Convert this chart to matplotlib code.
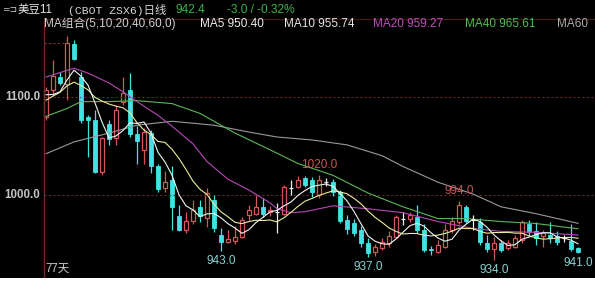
import numpy as np
import matplotlib
matplotlib.use("Agg")
import matplotlib.pyplot as plt
from matplotlib.patches import Rectangle
from matplotlib.lines import Line2D

# daily OHLC, 77 days
opens = [1079, 1107, 1120, 1113, 1154, 1120, 1079, 1076, 1023, 1072,
         1058, 1095, 1107, 1062, 1046, 1063, 1030, 1007, 1015, 979,
         964, 974, 988, 977, 995, 959, 952, 953, 957, 980,
         981, 988, 983, 983, 981, 1007, 1008, 1017, 1015, 1000,
         1013, 1013, 1003, 975, 972, 964, 951, 942, 946, 951,
         957, 976, 976, 978, 964, 945, 942, 947, 964, 973,
         988, 975, 973, 951, 945, 951, 946, 947, 954, 971,
         963, 958, 959, 958, 956, 953, 946]
highs = [1110, 1137, 1125, 1162, 1158, 1125, 1081, 1086, 1059, 1076,
         1092, 1120, 1124, 1070, 1068, 1066, 1032, 1024, 1029, 990,
         983, 995, 995, 1007, 1000, 966, 964, 968, 978, 990,
         1000, 997, 989, 992, 1010, 1015, 1019, 1019, 1018, 1020,
         1017, 1016, 1005, 980, 976, 968, 956, 950, 956, 963,
         980, 983, 983, 990, 970, 948, 954, 970, 978, 994,
         990, 980, 977, 959, 957, 954, 954, 959, 975, 975,
         973, 964, 973, 963, 959, 970, 947]
lows = [1076, 1102, 1112, 1097, 1137, 1073, 1039, 1022, 1020, 1051,
        1051, 1092, 1059, 1032, 1032, 1022, 1003, 1003, 964, 963,
        961, 971, 973, 967, 962, 943, 951, 950, 956, 975,
        980, 978, 979, 961, 980, 1000, 1007, 1008, 998, 997,
        1009, 999, 972, 960, 958, 947, 937, 938, 944, 947,
        956, 969, 973, 961, 942, 939, 941, 946, 961, 971,
        972, 964, 949, 942, 934, 942, 944, 946, 951, 958,
        949, 947, 951, 949, 952, 943, 941]
closes = [1107, 1121, 1114, 1155, 1138, 1076, 1076, 1023, 1058, 1057,
          1086, 1104, 1062, 1055, 1064, 1030, 1006, 1013, 988, 964,
          974, 985, 979, 1002, 966, 952, 955, 957, 975, 985,
          988, 981, 985, 983, 1008, 1007, 1015, 1010, 1003, 1015,
          1013, 1003, 974, 965, 961, 951, 941, 947, 952, 958,
          978, 976, 980, 964, 944, 944, 949, 964, 974, 990,
          974, 975, 952, 945, 951, 944, 951, 956, 973, 962,
          956, 961, 956, 952, 956, 945.4, 942.4]
# closes before the visible window (for MA5 / MA10)
prev_closes = [1080, 1075, 1090, 1100, 1110, 1120, 1100, 1095, 1088]

# slow averages
ma20_idx = [0, 4, 6, 9, 11, 13, 16, 18, 21, 23, 26, 29, 32, 33, 35, 37, 41, 46, 51, 56, 61, 65, 70, 76]
ma20_val = [1120, 1129, 1124, 1114, 1105, 1095, 1081, 1070, 1052, 1034, 1016, 1005, 992, 986, 982, 983,
            989, 986, 982, 973, 966, 963, 962, 959.3]
ma40_idx = [0, 3, 5, 9, 13, 18, 22, 27, 32, 36, 41, 46, 51, 56, 60, 65, 70, 76]
ma40_val = [1080, 1088, 1095, 1095, 1096, 1093, 1083, 1063, 1046, 1032, 1020, 1002, 988, 976, 976, 973,
            971, 965.6]
ma60_idx = [0, 4, 9, 13, 18, 24, 29, 33, 38, 43, 48, 51, 56, 61, 65, 70, 76]
ma60_val = [1042, 1054, 1063, 1071, 1075, 1071, 1064, 1059, 1056, 1051, 1040, 1029, 1013, 1001, 988,
            981, 971.2]

# legend row as printed in the header
ma_names = ["MA5", "MA10", "MA20", "MA40", "MA60"]
ma_last = [950.40, 955.74, 959.27, 965.61, None]
last_price = 942.4
change = -3.0
change_pct = -0.32

grid_levels = [1100.0, 1000.0]
peak_labels = [39, 59]
trough_labels = [25, 46, 64, 76]

W, H = 595, 281
BG = "black"
UP = "#d35858"
DOWN = "#42e2e2"

fig = plt.figure(figsize=(W / 100, H / 100), dpi=100, facecolor=BG)
ax = fig.add_axes([0, 0, 1, 1])
ax.set_facecolor(BG)
ax.axis("off")

# candle i sits at pixel 46 + 7*i ; 1100 at pixel row 96.7, 0.983 px per point
ax.set_xlim(-46 / 7, (W - 46) / 7)
ax.set_ylim(1100 - (H - 96.7) / 0.983, 1100 + 96.7 / 0.983)


def fx(x):
    return x / W


def fy(y):
    return 1 - y / H


# frame
left = -2 / 7
fig.add_artist(Line2D([fx(44), fx(44)], [fy(18), fy(277)], color="#7a2a2a", lw=0.9))
fig.add_artist(Line2D([fx(44), fx(595)], [fy(18.5), fy(18.5)], color="#4a1818", lw=0.8))
ax.hlines(grid_levels, left, (W - 46) / 7, colors="#6a2424", linestyles=(0, (2, 2)), lw=0.8)
for g in grid_levels:
    ax.text(left - 0.55, g, f"{g:.1f}", color="#c4c4c4", fontsize=8.3, fontweight="bold",
            family="Liberation Sans", ha="right", va="center")
ax.hlines(closes[3], left, 3, colors="#8a3030", linestyles=(0, (2, 2)), lw=0.8)

# candles
bw = 0.66
for i in range(len(closes)):
    o, h, l, c = opens[i], highs[i], lows[i], closes[i]
    if abs(c - o) < 0.5:
        ax.vlines(i, l, h, color="#eeeeee", lw=0.9)
        ax.hlines(o, i - bw / 2, i + bw / 2, color="#eeeeee", lw=0.9)
    elif c > o:
        ax.vlines(i, c, h, color=UP, lw=0.9)
        ax.vlines(i, l, o, color=UP, lw=0.9)
        ax.add_patch(Rectangle((i - bw / 2, o), bw, c - o, facecolor=BG, edgecolor=UP, lw=0.9))
    else:
        ax.vlines(i, l, h, color=DOWN, lw=0.9)
        ax.add_patch(Rectangle((i - bw / 2, c), bw, o - c, facecolor=DOWN, edgecolor=DOWN, lw=0.6))

# moving averages
all_closes = np.array(prev_closes + closes, dtype=float)
n0 = len(prev_closes)
idx = np.arange(len(closes))
ma5 = np.array([all_closes[n0 + i - 4:n0 + i + 1].mean() for i in idx])
ma10 = np.array([all_closes[n0 + i - 9:n0 + i + 1].mean() for i in idx])
ax.plot(ma60_idx, ma60_val, color="#9a9a9a", lw=0.8)
ax.plot(ma40_idx, ma40_val, color="#5cb85c", lw=0.8)
ax.plot(ma20_idx, ma20_val, color="#b848b8", lw=0.8)
ax.plot(idx, ma10, color="#ecec9c", lw=0.8)
ax.plot(idx, ma5, color="#f4f4f4", lw=0.8)

# high / low markers
for i in peak_labels:
    ax.annotate(f"{highs[i]:.1f}", (i, highs[i]), xytext=(0, 3), textcoords="offset points",
                ha="center", va="bottom", color="#cc5555", fontsize=8.5, family="Liberation Sans")
for i in trough_labels:
    ax.annotate(f"{lows[i]:.1f}", (i, lows[i]), xytext=(0, -3), textcoords="offset points",
                ha="center", va="top", color="#8ad2d2", fontsize=8.5, family="Liberation Sans")

# header rows
cjk = ["Liberation Sans", "Noto Sans CJK SC"]
fig.text(fx(2), fy(10), "=⊐", color="#c8c8c8", fontsize=6.5, va="center", family="DejaVu Sans")
fig.text(fx(18), fy(10), "美豆11", color="#e8e8e8", fontsize=8.3, va="center", family=cjk)
fig.text(fx(68), fy(10), "(CBOT ZSX6)日线", color="#d8d8d8", fontsize=8.2, va="center",
         family=["Liberation Mono", "Noto Sans CJK SC"])
fig.text(fx(175), fy(10), f"{last_price:.1f}", color="#3cb44a", fontsize=8.6, va="center",
         family="Liberation Sans")
fig.text(fx(227), fy(10), f"{change:.1f} / {change_pct:.2f}%", color="#3cb44a",
         fontsize=8.6, va="center", family="Liberation Sans")

row2_x = [200, 284, 373, 465, 557]
row2_col = ["#ececec", "#e6e6e6", "#c24ac2", "#4cc04c", "#a8a8a8"]
fig.text(fx(44), fy(24), "MA组合(5,10,20,40,60,0)", color="#cfcfcf", fontsize=8.5, va="center",
         family=cjk)
for x, name, val, col in zip(row2_x, ma_names, ma_last, row2_col):
    s = name if val is None else f"{name} {val:.2f}"
    fig.text(fx(x), fy(24), s, color=col, fontsize=8.5, va="center", family=cjk)

fig.text(fx(45), fy(269), "77天", color="#cfcfcf", fontsize=8.3, va="center", family=cjk)

# light strip at the bottom edge
fig.add_artist(Rectangle((0, 0), 1, 3.5 / H, transform=fig.transFigure, facecolor="white",
                         edgecolor="none"))

fig.savefig("out.png", dpi=100, facecolor=BG)
